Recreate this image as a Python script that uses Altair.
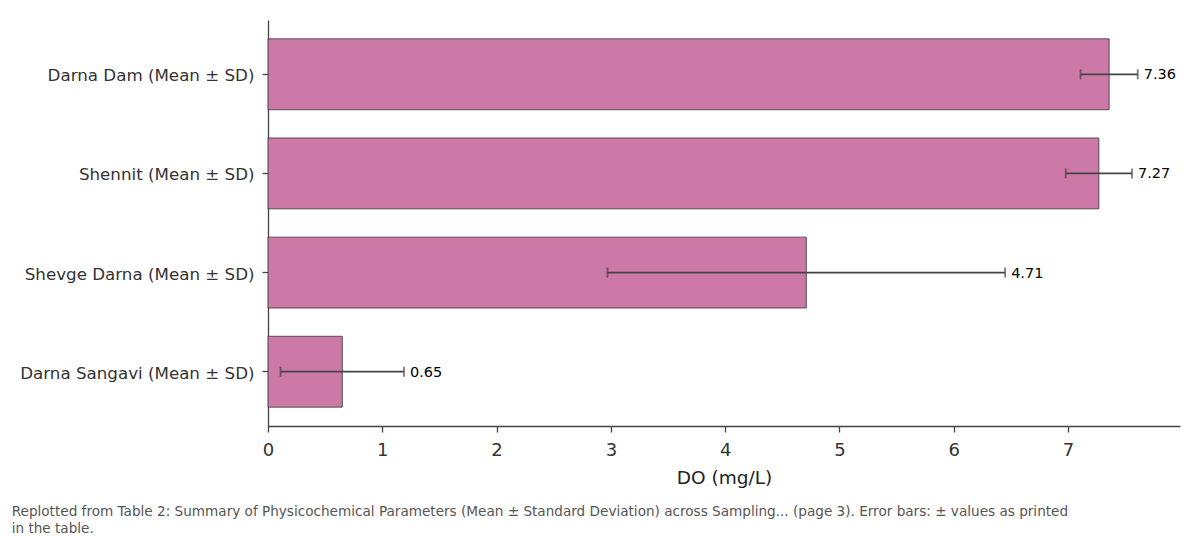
import altair as alt
import pandas as pd

sites = ["Darna Dam (Mean ± SD)", "Shennit (Mean ± SD)", "Shevge Darna (Mean ± SD)", "Darna Sangavi (Mean ± SD)"]
means = [7.36, 7.27, 4.71, 0.65]
sds = [0.25, 0.29, 1.74, 0.54]
labels = ["7.36", "7.27", "4.71", "0.65"]

df = pd.DataFrame({"site": sites, "mean": means, "sd": sds, "label": labels})
df["lo"] = df["mean"] - df["sd"]
df["hi"] = df["mean"] + df["sd"]

footnote = [
    "Replotted from Table 2: Summary of Physicochemical Parameters (Mean ± Standard Deviation) across Sampling... (page 3). Error bars: ± values as printed",
    "in the table.",
]

y_enc = alt.Y("site:N", sort=sites, title=None,
              scale=alt.Scale(paddingInner=0.285, paddingOuter=0.19),
              axis=alt.Axis(labelFontSize=16.7, labelColor="#333333", labelPadding=8, labelOffset=2,
                            tickSize=6, tickColor="#444444", domainColor="#444444",
                            labelFont="DejaVu Sans", labelLimit=300))
x_scale = alt.Scale(domain=[0, 7.98], nice=False, zero=True)

base = alt.Chart(df)

bars = base.mark_bar(color="#cc79a7", stroke="#333333", strokeWidth=0.8).encode(
    y=y_enc,
    x=alt.X("mean:Q", scale=x_scale, title="DO (mg/L)",
            axis=alt.Axis(values=[0, 1, 2, 3, 4, 5, 6, 7], format="d", labelFlush=False,
                          labelFontSize=18, labelColor="#333333",
                          titleFontSize=18.5, titleColor="#222222", titleFontWeight="normal",
                          titlePadding=9, tickSize=6, tickColor="#444444", domainColor="#444444",
                          labelFont="DejaVu Sans", titleFont="DejaVu Sans", grid=False, labelPadding=9)),
)

rules = base.mark_rule(color="#444444", strokeWidth=1.7).encode(
    y=alt.Y("site:N", sort=sites),
    x="lo:Q",
    x2="hi:Q",
)

caps_lo = base.mark_tick(color="#444444", orient="vertical", size=10, thickness=1.8).encode(
    y=alt.Y("site:N", sort=sites), x="lo:Q")
caps_hi = base.mark_tick(color="#444444", orient="vertical", size=10, thickness=1.8).encode(
    y=alt.Y("site:N", sort=sites), x="hi:Q")

text = base.mark_text(align="left", baseline="middle", dx=6, dy=1, fontSize=14.5, color="#000000",
                      font="DejaVu Sans").encode(
    y=alt.Y("site:N", sort=sites), x="hi:Q", text="label:N")

chart = alt.layer(bars, rules, caps_lo, caps_hi, text).properties(
    width=912, height=406,
    autosize=alt.AutoSizeParams(type="none"),
    padding={"left": 268, "top": 20, "right": 20, "bottom": 114},
    title=alt.TitleParams(text=footnote, orient="bottom", anchor="start", dx=-8, offset=18,
                          fontSize=13.6, color="#555555", fontWeight="normal", font="DejaVu Sans",
                          lineHeight=17),
).configure_view(stroke=None).configure_axis(domainWidth=1.3, tickWidth=1.3)

chart.save("out.html", embed_options={"renderer": "svg", "actions": False})
